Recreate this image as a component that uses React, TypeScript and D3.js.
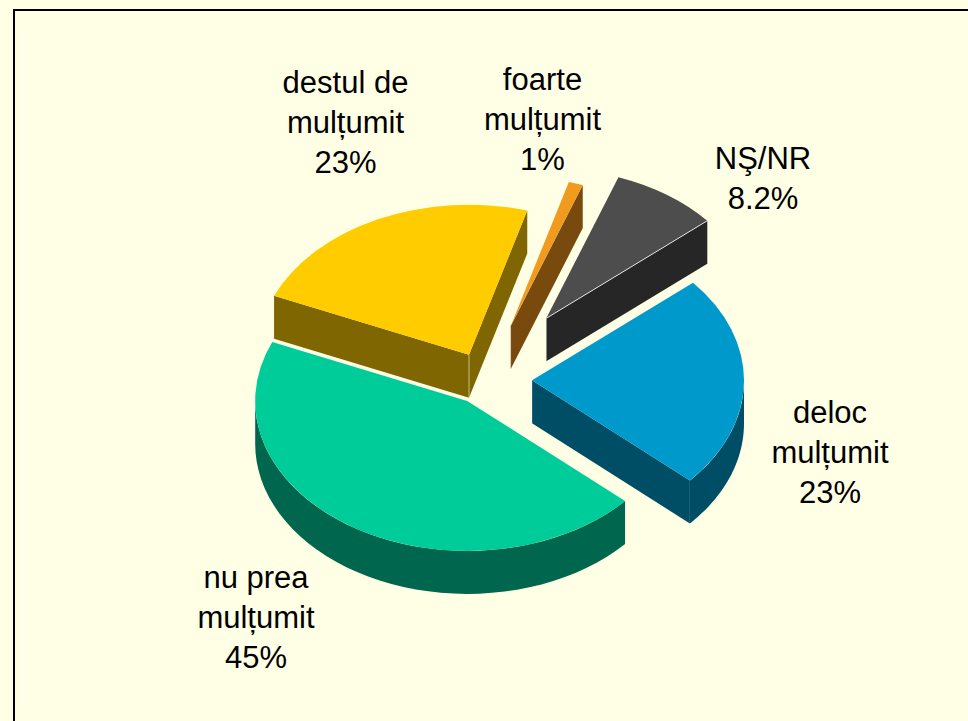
import React from "react";
import * as d3 from "d3";

const categories = ["NŞ/NR", "deloc mulțumit", "nu prea mulțumit", "destul de mulțumit", "foarte mulțumit"];
const values = [8.2, 22.9, 44.8, 23.0, 1.1];
const explode = [106, 46, 35, 39.5, 80];
const topColors = ["#4D4D4D", "#0099CC", "#00CC99", "#FFCC00", "#F09A1E"];
const sideColors = ["#262626", "#004D66", "#00664D", "#806600", "#784A0D"];
const labelLines = [["NŞ/NR", "8.2%"], ["deloc", "mulțumit", "23%"], ["nu prea", "mulțumit", "45%"], ["destul de", "mulțumit", "23%"], ["foarte", "mulțumit", "1%"]];
const labelPos: [number, number][] = [[763, 169], [830, 423], [256, 588], [345.5, 93], [542.5, 90]];
const drawOrder = [0, 4, 3, 1, 2];

const W = 968, H = 721;
const cx = 486, cy = 380, rx = 212, ry = 150, depth = 43;
const k = ry / rx;
const start = (19.9 * Math.PI) / 180;
const PI = Math.PI;

export default function App() {
  const pie = d3.pie<number>().sort(null).startAngle(start).endAngle(start + 2 * PI);
  const arcs = pie(values);
  const arc = d3.arc<d3.PieArcDatum<number>>().innerRadius(0).outerRadius(rx);
  const line = d3.line();
  return (
    <svg width={W} height={H} style={{ position: "absolute", left: 0, top: 0, background: "#FFFFE6" }} fontFamily="'Liberation Sans', Arial, sans-serif">
      <rect x={23} y={21} width={W} height={693} fill="#FFFFE6" stroke="#FFFFEE" strokeWidth={1.5} />
      <path d={`M14 ${H}V10H${W}`} fill="none" stroke="#000" strokeWidth={2} />
      {drawOrder.map((i) => {
        const a = arcs[i];
        const mid = (a.startAngle + a.endAngle) / 2;
        const ox = cx + explode[i] * Math.sin(mid);
        const oy = cy - explode[i] * k * Math.cos(mid);
        const pt = (t: number, d = 0): [number, number] => [ox + rx * Math.sin(t), oy - ry * Math.cos(t) + d];
        const faces: [number, number][][] = [];
        const sinS = Math.sin(a.startAngle), sinE = Math.sin(a.endAngle);
        const apex: [number, number] = [ox, oy];
        const apexD: [number, number] = [ox, oy + depth];
        if (sinS < 0) faces.push([apex, pt(a.startAngle), pt(a.startAngle, depth), apexD]);
        if (sinE > 0) faces.push([apex, pt(a.endAngle), pt(a.endAngle, depth), apexD]);
        // visible part of the rim is the front half of the ellipse
        const a0 = Math.max(a.startAngle, PI / 2);
        const a1 = Math.min(a.endAngle, (3 * PI) / 2);
        let rim: [number, number][] | null = null;
        if (a1 > a0) {
          const ts = d3.range(0, 41).map((n) => a0 + ((a1 - a0) * n) / 40);
          rim = [...ts.map((t) => pt(t)), ...ts.slice().reverse().map((t) => pt(t, depth))];
        }
        return (
          <g key={categories[i]}>
            {faces.map((f, j) => (
              <path key={j} d={line(f) + "Z"} fill={sideColors[i]} />
            ))}
            {rim && <path d={line(rim) + "Z"} fill={sideColors[i]} />}
            {faces.map((f, j) => (
              <line key={j} x1={f[0][0]} y1={f[0][1]} x2={f[3][0]} y2={f[3][1]} stroke="#fff" strokeOpacity={0.3} strokeWidth={1} />
            ))}
            <path d={arc(a) || ""} transform={`translate(${ox},${oy}) scale(1,${k})`} fill={topColors[i]} />
            {i === 0 && faces.map((f, j) => (
              <line key={j} x1={f[0][0]} y1={f[0][1]} x2={f[1][0]} y2={f[1][1]} stroke="#fff" strokeOpacity={0.8} strokeWidth={1} />
            ))}
          </g>
        );
      })}
      {labelLines.map((ls, i) => (
        <text key={i} x={labelPos[i][0]} y={labelPos[i][1]} textAnchor="middle" fontSize={31} fill="#000">
          {ls.map((l, j) => (
            <tspan key={j} x={labelPos[i][0]} dy={j === 0 ? 0 : 40}>{l}</tspan>
          ))}
        </text>
      ))}
    </svg>
  );
}
